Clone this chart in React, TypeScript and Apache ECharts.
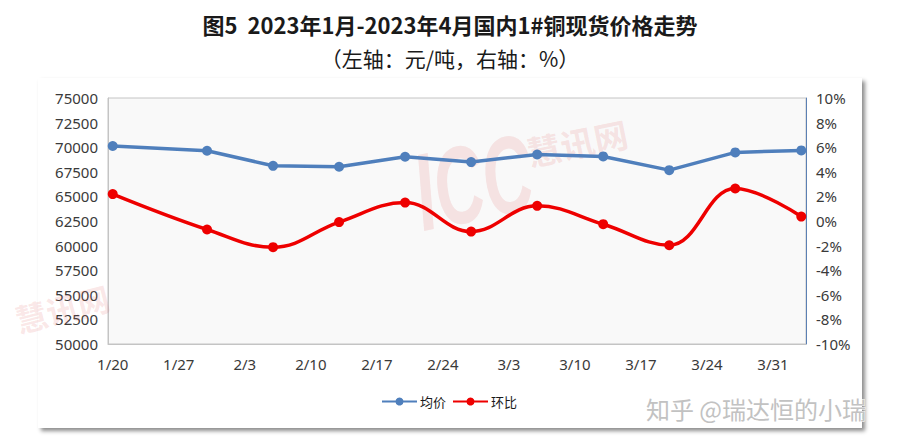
import React, { useEffect, useRef } from "react";
import * as echarts from "echarts";

// ---- data ----
const axisStart = "2023-01-20"; // first day on the date axis
const axisDays = 74; // 1/20 .. 4/3, one category per day
const pointDates = ["1/20", "1/30", "2/6", "2/13", "2/20", "2/27", "3/6", "3/13", "3/20", "3/27", "4/3"];
const avgPrice = [70120, 69640, 68110, 68010, 69030, 68490, 69260, 69060, 67670, 69470, 69670];
const momChange = [2.19, -0.69, -2.13, -0.09, 1.5, -0.86, 1.23, -0.26, -1.97, 2.64, 0.36];
const leftTicks = { min: 50000, max: 75000, interval: 2500 };
const rightTicks = { min: -10, max: 10, interval: 2 };
const titleText = "图5  2023年1月-2023年4月国内1#铜现货价格走势";
const subTitleText = "（左轴：元/吨，右轴：%）";
const seriesNames = ["均价", "环比"];

function buildCategories(): string[] {
  const out: string[] = [];
  const d0 = new Date(axisStart + "T00:00:00");
  for (let i = 0; i < axisDays; i++) {
    const d = new Date(d0.getTime() + i * 86400000);
    out.push(`${d.getMonth() + 1}/${d.getDate()}`);
  }
  return out;
}

export default function App() {
  const ref = useRef<HTMLDivElement>(null);
  useEffect(() => {
    document.body.style.margin = "0";
    if (!ref.current) return;
    const chart = echarts.init(ref.current, undefined, { renderer: "svg" });
    const cats = buildCategories();
    const align = (vals: number[]) =>
      cats.map((c) => {
        const k = pointDates.indexOf(c);
        return k >= 0 ? vals[k] : null;
      });
    const axisFont = { fontFamily: "Noto Sans", fontSize: 15, color: "#3a3a3a" };
    const pink = "rgba(225,110,110,0.17)";
    chart.setOption({
      animation: false,
      backgroundColor: "transparent",
      title: [
        {
          text: titleText,
          left: "center",
          top: 8,
          textStyle: { fontFamily: "Noto Sans CJK SC", fontSize: 22, fontWeight: "bold", color: "#1a1a1a" },
        },
        {
          text: subTitleText,
          left: "center",
          top: 42,
          textStyle: { fontFamily: "Noto Sans CJK SC", fontSize: 21, fontWeight: "normal", color: "#1a1a1a" },
        },
      ],
      graphic: [
        {
          type: "group",
          x: 473,
          y: 182,
          rotation: 0.2,
          z: 1,
          silent: true,
          children: [
            {
              type: "text",
              scaleX: 0.62,
              style: {
                text: "ICC",
                x: 0,
                y: 0,
                fontSize: 110,
                fontWeight: "bold",
                fontStyle: "italic",
                fontFamily: "Liberation Sans",
                fill: pink,
                align: "center",
                verticalAlign: "middle",
              },
            },
            {
              type: "text",
              style: {
                text: "慧讯网",
                x: 110,
                y: -18,
                fontSize: 34,
                fontWeight: "bold",
                fontFamily: "Noto Sans CJK SC",
                fill: pink,
                align: "center",
                verticalAlign: "middle",
              },
            },
          ],
        },
        {
          type: "text",
          z: 1,
          silent: true,
          x: 62,
          y: 308,
          rotation: 0.25,
          style: {
            text: "慧讯网",
            fontSize: 32,
            fontWeight: "bold",
            fontFamily: "Noto Sans CJK SC",
            fill: pink,
            align: "center",
            verticalAlign: "middle",
          },
        },
        {
          type: "text",
          z: 100,
          silent: true,
          x: 756,
          y: 408,
          style: {
            text: "知乎 @瑞达恒的小瑞",
            fontSize: 24,
            fontFamily: "Noto Sans CJK SC",
            fill: "#c2c2c2",
            stroke: "#ffffff",
            lineWidth: 1,
            align: "center",
            verticalAlign: "middle",
          },
        },
      ],
      legend: {
        data: seriesNames,
        top: 390,
        left: 376,
        itemWidth: 35,
        itemHeight: 10,
        itemGap: 6,
        textStyle: { fontFamily: "Noto Sans CJK SC", fontSize: 13, color: "#1a1a1a", padding: [0, 0, 0, -2] },
      },
      grid: {
        left: 108,
        right: 94,
        top: 98,
        bottom: 101,
        show: true,
        backgroundColor: "#f9f9f9",
        borderColor: "#c4c4c4",
        borderWidth: 1,
      },
      xAxis: {
        type: "category",
        data: cats,
        boundaryGap: true,
        axisLine: { show: true, onZero: false, lineStyle: { color: "#c4c4c4", width: 1 } },
        axisTick: { show: false },
        splitLine: { show: false },
        axisLabel: { ...axisFont, interval: 6, margin: 12 },
      },
      yAxis: [
        {
          type: "value",
          ...leftTicks,
          position: "left",
          axisLine: { show: true, lineStyle: { color: "#c4c4c4" } },
          axisTick: { show: false },
          splitLine: { show: false },
          axisLabel: { ...axisFont, margin: 10, formatter: (v: number) => String(v) },
        },
        {
          type: "value",
          ...rightTicks,
          position: "right",
          axisLine: { show: true, onZero: false, lineStyle: { color: "#5b80b4", width: 1 } },
          axisTick: { show: false },
          splitLine: { show: false },
          axisLabel: { ...axisFont, margin: 10, formatter: (v: number) => `${v}%` },
        },
      ],
      series: [
        {
          name: seriesNames[0],
          type: "line",
          yAxisIndex: 0,
          data: align(avgPrice),
          connectNulls: true,
          showAllSymbol: true,
          symbol: "circle",
          symbolSize: 10,
          z: 3,
          itemStyle: { color: "#4f7fbc" },
          lineStyle: { color: "#4f7fbc", width: 3.5 },
        },
        {
          name: seriesNames[1],
          type: "line",
          yAxisIndex: 1,
          data: align(momChange),
          connectNulls: true,
          showAllSymbol: true,
          smooth: 0.4,
          symbol: "circle",
          symbolSize: 10,
          z: 3,
          itemStyle: { color: "#ee0000" },
          lineStyle: { color: "#ee0000", width: 3.5 },
        },
      ],
    });
    return () => chart.dispose();
  }, []);
  return (
    <div style={{ position: "fixed", left: 0, top: 0, width: 900, height: 445, background: "#ffffff" }}>
      <div
        style={{
          position: "absolute",
          left: 38,
          top: 78,
          width: 824,
          height: 350,
          background: "#ffffff",
          boxShadow: "3px 3px 4px rgba(0,0,0,0.45)",
        }}
      />
      <div ref={ref} style={{ position: "absolute", left: 0, top: 0, width: 900, height: 445 }} />
    </div>
  );
}
